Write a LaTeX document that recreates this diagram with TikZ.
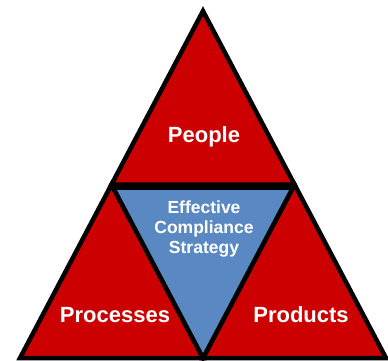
\documentclass[tikz,border=0pt]{standalone}
\usepackage{fontspec}
\setmainfont{Liberation Sans}
\usetikzlibrary{calc}
\definecolor{partred}{HTML}{CC0000}
\definecolor{coreblue}{HTML}{5A88C2}
\tikzset{
  part/.style={fill=partred, draw=black, line width=4.5pt, line join=miter},
  core/.style={fill=coreblue, draw=black, line width=4.5pt, line join=miter},
  bigtext/.style={text=white, font=\bfseries\fontsize{22}{24}\selectfont, anchor=base},
  coretext/.style={text=white, font=\bfseries\fontsize{17.5}{20}\selectfont, align=center}
}
\begin{document}
\begin{tikzpicture}[x=1pt,y=-1pt]
        \useasboundingbox (0,0) rectangle (388,360);
        % corners of the big triangle and midpoints of its sides
        \coordinate (A) at (203,11);
        \coordinate (B) at (20,358);
        \coordinate (C) at (386,358);
        \coordinate (AB) at ($(A)!0.5!(B)$);
        \coordinate (AC) at ($(A)!0.5!(C)$);
        \coordinate (BC) at ($(B)!0.5!(C)$);

        \draw[part] (A) -- (AB) -- (AC) -- cycle;
        \draw[part] (AB) -- (B) -- (BC) -- cycle;
        \draw[part] (AC) -- (BC) -- (C) -- cycle;
        \draw[core] ($(AB)+(1.5,3)$) -- ($(AC)+(-1.5,3)$) -- (BC) -- cycle;

        \node (people) [bigtext] at (204,142) {People};
        \node (processes) [bigtext] at (115,322) {Processes};
        \node (products) [bigtext] at (301,322) {Products};
        \node (strategy) [coretext] at (204,229) {Effective\\Compliance\\Strategy};
\end{tikzpicture}
\end{document}
